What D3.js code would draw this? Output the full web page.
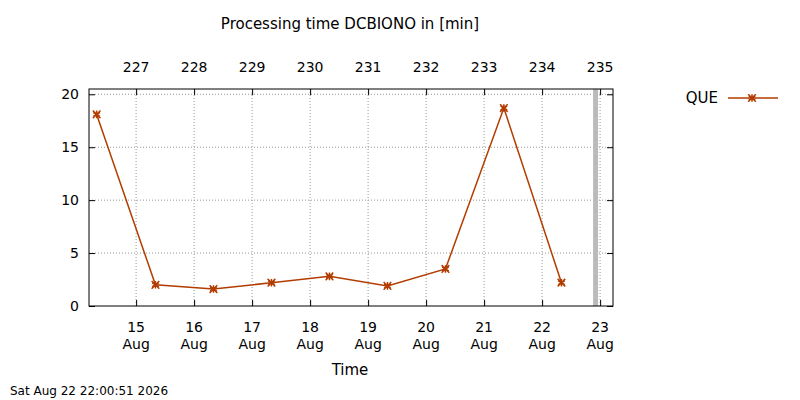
<!DOCTYPE html><html><head><meta charset="utf-8">
<script src="https://cdn.jsdelivr.net/npm/d3@7"></script>
<style>body{margin:0;background:#fff}text{font-family:"DejaVu Sans";fill:#000}</style></head><body>
<svg id="c" width="800" height="400"></svg>
<script>
const times=["2026-08-14T07:40","2026-08-15T08:00","2026-08-16T08:00","2026-08-17T08:00","2026-08-18T08:00","2026-08-19T08:00","2026-08-20T08:00","2026-08-21T08:10","2026-08-22T08:00"];
const values=[18.1,2.0,1.6,2.2,2.8,1.9,3.5,18.7,2.2];
const yTicks=[0,5,10,15,20];
const nowMark="2026-08-22T22:20";
const title="Processing time DCBIONO in [min]";
const P=s=>new Date(s+"Z");
const svg=d3.select("#c");
const L=89,R=613,T=89,B=306;
const x=d3.scaleUtc().domain([P("2026-08-14T04:30"),P("2026-08-23T05:20")]).range([L,R]);
const y=d3.scaleLinear().domain([0,20.5]).range([B,T]);
const days=d3.utcDay.range(P("2026-08-15T00:00"),P("2026-08-23T12:00"));
const g=svg.append("g");
days.forEach(d=>g.append("line").attr("x1",x(d)).attr("x2",x(d)).attr("y1",T).attr("y2",B).attr("stroke","#999").attr("stroke-dasharray","1,2"));
yTicks.slice(1).forEach(v=>g.append("line").attr("x1",L).attr("x2",R).attr("y1",y(v)).attr("y2",y(v)).attr("stroke","#999").attr("stroke-dasharray","1,2"));
svg.append("rect").attr("x",x(P(nowMark))-3).attr("y",T).attr("width",5).attr("height",B-T).attr("fill","#bbb");
svg.append("rect").attr("x",L).attr("y",T).attr("width",R-L).attr("height",B-T).attr("fill","none").attr("stroke","#000");
const fmt=d=>d.getUTCDate();
const xb=svg.append("g").attr("transform",`translate(0,${B})`).call(d3.axisBottom(x).tickValues(days).tickSize(-6).tickFormat(""));
xb.select(".domain").remove();
days.forEach(d=>{const t=svg.append("text").attr("x",x(d)).attr("text-anchor","middle").attr("font-size",14);
t.append("tspan").attr("x",x(d)).attr("y",332).text(fmt(d));t.append("tspan").attr("x",x(d)).attr("y",349).text("Aug");});
const xt=svg.append("g").attr("transform",`translate(0,${T})`).call(d3.axisTop(x).tickValues(days).tickSize(-6).tickFormat(""));
xt.select(".domain").remove();
days.forEach(d=>svg.append("text").attr("x",x(d)).attr("y",72).attr("text-anchor","middle").attr("font-size",14).text(d3.utcFormat("%j")(d)));
const yl=svg.append("g").attr("transform",`translate(${L},0)`).call(d3.axisLeft(y).tickValues(yTicks).tickSize(-6).tickPadding(10));
yl.select(".domain").remove();yl.selectAll("text").attr("font-size",14).attr("font-family","DejaVu Sans");
const yr=svg.append("g").attr("transform",`translate(${R},0)`).call(d3.axisRight(y).tickValues(yTicks).tickSize(-6).tickFormat(""));
yr.select(".domain").remove();
const col="#b33c00";
svg.append("path").datum(values).attr("fill","none").attr("stroke",col).attr("stroke-width",1.5)
 .attr("d",d3.line().x((d,i)=>x(P(times[i]))).y(d=>y(d)));
const star=d3.symbol().type(d3.symbolAsterisk).size(40);
const cross=d3.symbol().type(d3.symbolX).size(40);
values.forEach((v,i)=>{[star,cross].forEach(s=>svg.append("path").attr("d",s()).attr("transform",`translate(${x(P(times[i]))},${y(v)})`).attr("stroke",col).attr("stroke-width",1.5).attr("fill","none"));});
svg.append("text").attr("x",350).attr("y",29).attr("text-anchor","middle").attr("font-size",15).text(title);
svg.append("text").attr("x",350).attr("y",375).attr("text-anchor","middle").attr("font-size",15).text("Time");
svg.append("text").attr("x",10).attr("y",395).attr("font-size",12).text("Sat Aug 22 22:00:51 2026");
svg.append("text").attr("x",718).attr("y",103).attr("text-anchor","end").attr("font-size",15).text("QUE");
svg.append("line").attr("x1",728).attr("x2",778).attr("y1",98).attr("y2",98).attr("stroke",col).attr("stroke-width",1.5);
[star,cross].forEach(s=>svg.append("path").attr("d",s()).attr("transform","translate(752,98)").attr("stroke",col).attr("stroke-width",1.5).attr("fill","none"));
</script></body></html>
